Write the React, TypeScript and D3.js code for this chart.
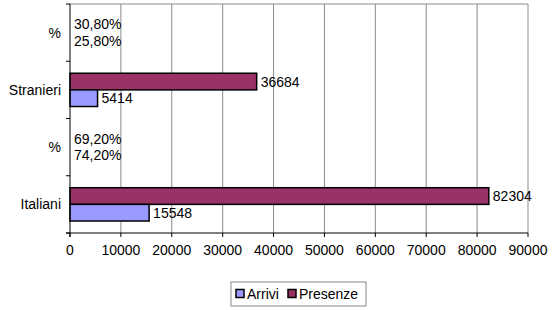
import React from "react";
import * as d3 from "d3";

const categories = ["%", "Stranieri", "%", "Italiani"];
const seriesNames = ["Presenze", "Arrivi"];
const presenze = [0.308, 36684, 0.692, 82304];
const arrivi = [0.258, 5414, 0.742, 15548];
const xTicks = [0, 10000, 20000, 30000, 40000, 50000, 60000, 70000, 80000, 90000];
const colors: Record<string, string> = { Presenze: "#993366", Arrivi: "#9999FF" };
const legendOrder = ["Arrivi", "Presenze"];

const W = 552, H = 310;
const M = { left: 70, right: 24, top: 4, bottom: 77 };
const FONT = "'Liberation Sans', Arial, sans-serif";
const FS = 14;

function fmt(cat: string, v: number) {
  if (cat === "%") return (v * 100).toFixed(2).replace(".", ",") + "%";
  return String(v);
}

export default function App() {
  const x = d3.scaleLinear().domain([0, 90000]).range([M.left, W - M.right]);
  const y = d3.scaleBand<number>().domain(categories.map((_, i) => i)).range([M.top, H - M.bottom]);
  const y1 = d3.scaleBand<string>().domain(seriesNames).range([0, y.bandwidth()]).paddingOuter(0.72);
  const values: Record<string, number[]> = { Presenze: presenze, Arrivi: arrivi };
  const x0 = x(0), x1 = x(90000), yTop = M.top, yBot = H - M.bottom;
  const bounds = [...categories.map((_, i) => y(i)!), yBot];

  return (
    <svg width={W} height={H} style={{ position: "absolute", left: 0, top: 0, background: "#fff" }} fontFamily={FONT}>
      {xTicks.slice(1).map((t) => (
        <line key={t} x1={x(t)} x2={x(t)} y1={yTop} y2={yBot} stroke="#8a8a8a" strokeWidth={1} />
      ))}
      <line x1={x0} x2={x1} y1={yTop} y2={yTop} stroke="#8a8a8a" />
      {categories.map((cat, i) =>
        seriesNames.map((s) => {
          const v = values[s][i];
          const by = y(i)! + y1(s)!;
          const bh = y1.bandwidth();
          const bw = x(v) - x0;
          return (
            <g key={s + i}>
              {bw >= 1 && (
                <rect x={x0} y={by} width={bw} height={bh} fill={colors[s]} stroke="#000" strokeWidth={1.5} />
              )}
              <text x={x(v) + 4} y={by + bh / 2} dominantBaseline="central" fontSize={FS} fill="#000">
                {fmt(cat, v)}
              </text>
            </g>
          );
        })
      )}
      <line x1={x0} x2={x0} y1={yTop} y2={yBot + 4} stroke="#000" />
      <line x1={x0 - 4} x2={x1} y1={yBot} y2={yBot} stroke="#000" />
      {bounds.map((b, i) => (
        <line key={i} x1={x0 - 4} x2={x0} y1={b} y2={b} stroke="#000" />
      ))}
      {xTicks.map((t) => (
        <g key={t}>
          <line x1={x(t)} x2={x(t)} y1={yBot} y2={yBot + 4} stroke="#000" />
          <text x={x(t)} y={yBot + 22} textAnchor="middle" fontSize={FS} fill="#000">{t}</text>
        </g>
      ))}
      {categories.map((cat, i) => (
        <text key={i} x={x0 - 9} y={y(i)! + y.bandwidth() / 2} textAnchor="end" dominantBaseline="central" fontSize={FS} fill="#000">
          {cat}
        </text>
      ))}
      <rect x={231} y={282} width={135} height={24} fill="#fff" stroke="#888" />
      {legendOrder.map((s, i) => {
        const lx = i === 0 ? 236 : 288;
        return (
          <g key={s}>
            <rect x={lx} y={289.5} width={8} height={8} fill={colors[s]} stroke="#000" strokeWidth={1.5} />
            <text x={lx + 11} y={294} dominantBaseline="central" fontSize={FS} fill="#000">{s}</text>
          </g>
        );
      })}
    </svg>
  );
}
